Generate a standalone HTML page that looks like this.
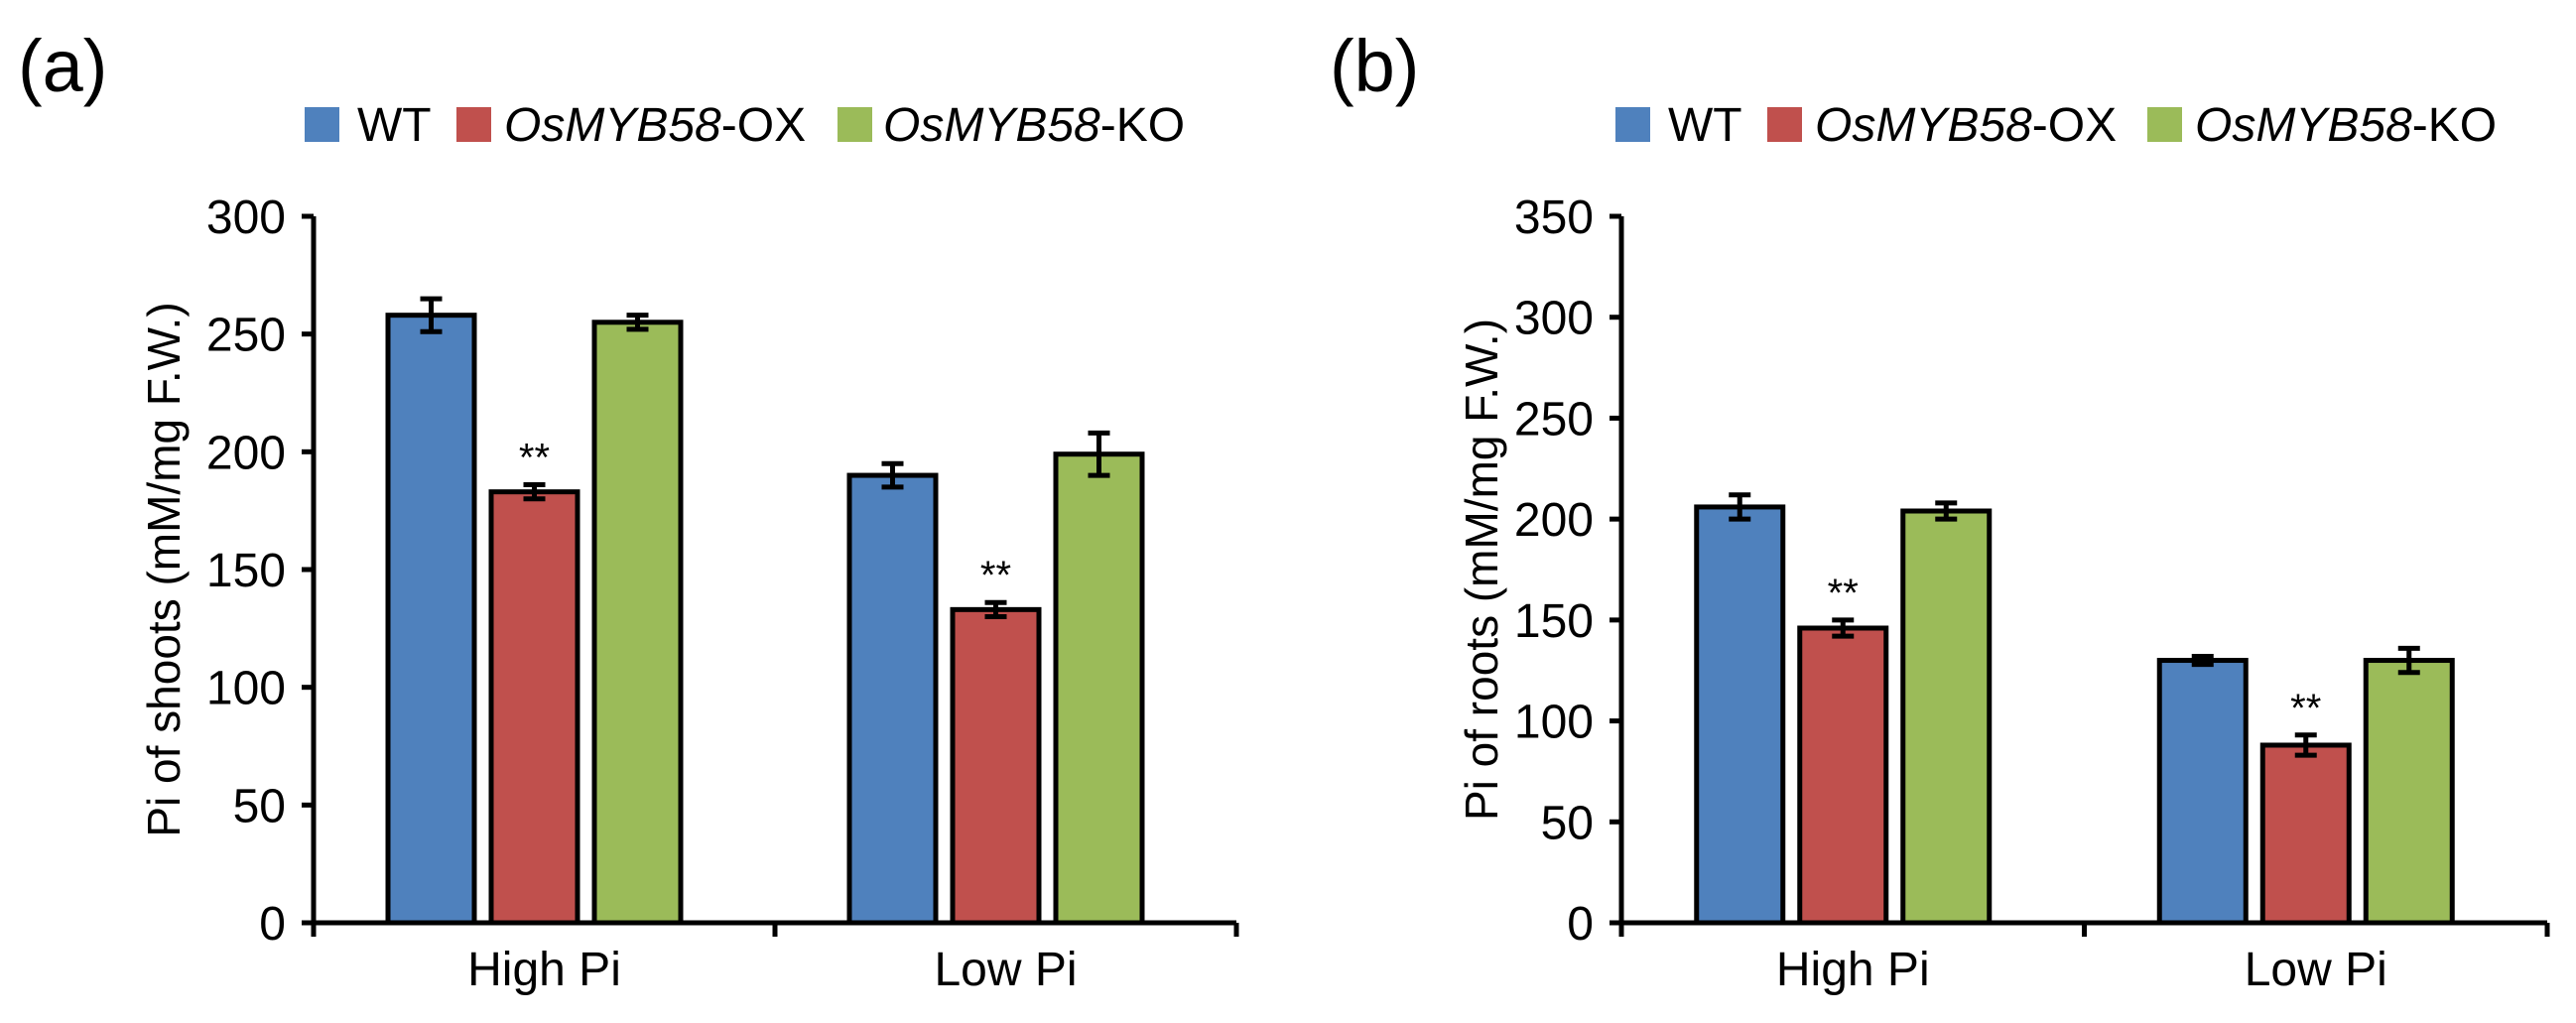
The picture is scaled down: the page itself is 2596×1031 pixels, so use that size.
<!DOCTYPE html>
<html><head><meta charset="utf-8"><style>
html,body{margin:0;padding:0;background:#fff;}
svg{display:block;font-family:"Liberation Sans",Arial,sans-serif;}
</style></head><body>
<svg id="fig" width="2596" height="1031" viewBox="0 0 2596 1031" xmlns="http://www.w3.org/2000/svg">
<text x="18" y="92" font-size="74">(a)</text>
<text x="1340" y="92" font-size="74">(b)</text>
<g>
<rect x="307" y="108" width="35" height="35" fill="#4F81BD"/>
<text x="360" y="142" font-size="48">WT</text>
<rect x="460" y="108" width="35" height="35" fill="#C0504D"/>
<text x="508" y="142" font-size="48"><tspan font-style="italic">OsMYB58</tspan>-OX</text>
<rect x="844" y="108" width="35" height="35" fill="#9BBB59"/>
<text x="890" y="142" font-size="48"><tspan font-style="italic">OsMYB58</tspan>-KO</text>
</g>
<g>
<rect x="1628" y="108" width="35" height="35" fill="#4F81BD"/>
<text x="1681" y="142" font-size="48">WT</text>
<rect x="1781" y="108" width="35" height="35" fill="#C0504D"/>
<text x="1829" y="142" font-size="48"><tspan font-style="italic">OsMYB58</tspan>-OX</text>
<rect x="2164" y="108" width="35" height="35" fill="#9BBB59"/>
<text x="2212" y="142" font-size="48"><tspan font-style="italic">OsMYB58</tspan>-KO</text>
</g>
</svg>
<script>
const categories = ["High Pi", "Low Pi"];
const seriesNames = ["WT", "OsMYB58-OX", "OsMYB58-KO"];
const seriesColors = ["#4F81BD", "#C0504D", "#9BBB59"];
const shootsWT = [258, 190];
const shootsOX = [183, 133];
const shootsKO = [255, 199];
const shootsWTErr = [7, 5];
const shootsOXErr = [3, 3];
const shootsKOErr = [3, 9];
const shootsSig = ["", "**", ""];
const shootsTicks = [0, 50, 100, 150, 200, 250, 300];
const rootsWT = [206, 130];
const rootsOX = [146, 88];
const rootsKO = [204, 130];
const rootsWTErr = [6, 2];
const rootsOXErr = [4, 5];
const rootsKOErr = [4, 6];
const rootsSig = ["", "**", ""];
const rootsTicks = [0, 50, 100, 150, 200, 250, 300, 350];

const NS = "http://www.w3.org/2000/svg";
const svg = document.getElementById("fig");
function mk(tag, attrs, parent) {
  const e = document.createElementNS(NS, tag);
  for (const k in attrs) e.setAttribute(k, attrs[k]);
  parent.appendChild(e);
  return e;
}
function drawChart(opt) {
  const g = mk("g", {}, svg);
  
  
  const yMax = opt.ticks[opt.ticks.length - 1];
  const y = v => opt.y0 - (v / yMax) * (opt.y0 - opt.yTop);
  const catW = (opt.xEnd - opt.x0) / categories.length;
  const barW = 87, step = 104;
  const vals = [opt.wt, opt.ox, opt.ko];
  const errs = [opt.wtE, opt.oxE, opt.koE];
  // bars
  categories.forEach((c, ci) => {
    const cx = opt.x0 + catW * (ci + 0.5) - 10;
    vals.forEach((arr, si) => {
      const bx = cx + (si - 1) * step - barW / 2;
      const r = mk("rect", {x: bx, y: y(arr[ci]), width: barW, height: opt.y0 - y(arr[ci]), fill: seriesColors[si], stroke: "#000", "stroke-width": 5}, g);
      
      
      const ex = bx + barW / 2, e = errs[si][ci];
      const eb = mk("path", {d: `M${ex},${y(arr[ci]+e)}V${y(arr[ci]-e)}M${ex-11},${y(arr[ci]+e)}H${ex+11}M${ex-11},${y(arr[ci]-e)}H${ex+11}`, stroke: "#000", "stroke-width": 5, fill: "none"}, g);
      
      
      if (si === 1) {
        const s = mk("text", {x: ex, y: y(arr[ci] + e) - 14, "font-size": 40, "text-anchor": "middle"}, g);
        s.textContent = "**";
        
        
      }
    });
    const lb = mk("text", {x: opt.x0 + catW * (ci + 0.5), y: 993, "font-size": 48, "text-anchor": "middle"}, g);
    lb.textContent = c;
    
    
  });
  // axes
  const ax = mk("path", {d: `M${opt.x0},${opt.yTop}V${opt.y0}H${opt.xEnd}`, stroke: "#000", "stroke-width": 5, fill: "none"}, g);
  
  
  opt.ticks.forEach(t => {
    const tk = mk("line", {x1: opt.x0 - 12, x2: opt.x0, y1: y(t), y2: y(t), stroke: "#000", "stroke-width": 5}, g);
    
    
    const tl = mk("text", {x: opt.x0 - 28, y: y(t) + 17, "font-size": 48, "text-anchor": "end"}, g);
    tl.textContent = t;
    
    
  });
  for (let i = 0; i <= categories.length; i++) {
    const xt = mk("line", {x1: opt.x0 + catW * i, x2: opt.x0 + catW * i, y1: opt.y0, y2: opt.y0 + 14, stroke: "#000", "stroke-width": 5}, g);
    
    
  }
  const yl = mk("text", {x: 0, y: 0, "font-size": 46, "text-anchor": "middle", transform: `translate(${opt.labelX},${(opt.yTop + opt.y0) / 2}) rotate(-90)`}, g);
  yl.textContent = opt.label;
  
  
}
drawChart({name: "chart-shoots", x0: 316, xEnd: 1246, y0: 930, yTop: 218, ticks: shootsTicks, wt: shootsWT, ox: shootsOX, ko: shootsKO, wtE: shootsWTErr, oxE: shootsOXErr, koE: shootsKOErr, label: "Pi of shoots (mM/mg F.W.)", labelX: 181});
drawChart({name: "chart-roots", x0: 1634, xEnd: 2567, y0: 930, yTop: 218, ticks: rootsTicks, wt: rootsWT, ox: rootsOX, ko: rootsKO, wtE: rootsWTErr, oxE: rootsOXErr, koE: rootsKOErr, label: "Pi of roots (mM/mg F.W.)", labelX: 1509});
</script>
</body></html>
